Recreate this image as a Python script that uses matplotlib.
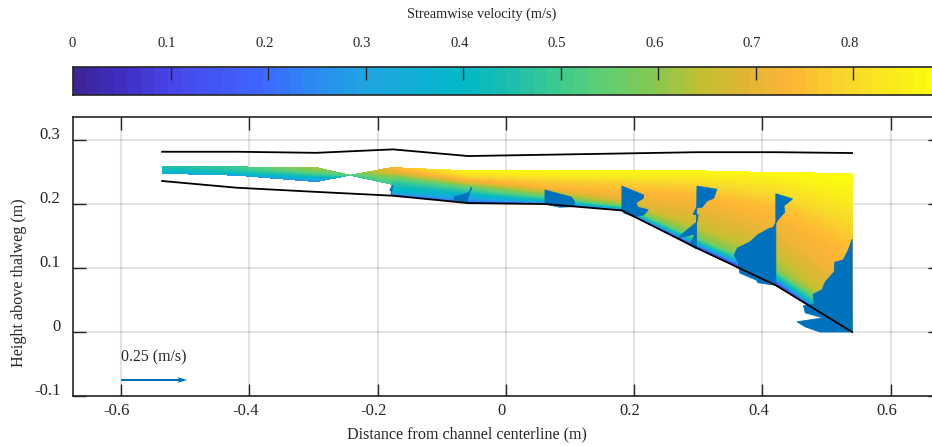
import matplotlib
matplotlib.use('Agg')
import matplotlib.pyplot as plt
import numpy as np
from matplotlib.colors import LinearSegmentedColormap, Normalize
from matplotlib.transforms import ScaledTranslation

plt.rcParams['font.family'] = ['Liberation Serif', 'DejaVu Serif']
DARK = '#262626'
BLUE = '#0072BD'
W, H = 932, 446
VMAX = 0.889

# colour scale
cmap_vals = [0, 0.05, 0.1, 0.19, 0.25, 0.3, 0.4, 0.45, 0.5, 0.55, 0.6, 0.65, 0.7, 0.74, 0.8, 0.889]
cmap_cols = ['#3D2599', '#4030C8', '#4848EA', '#3F66FF', '#2A8FF0', '#1FA5E0', '#00B9C8', '#1EBEAE',
             '#3ECC8E', '#62CF72', '#88C84E', '#C4C032', '#E5B535', '#FFB535', '#F8D82C', '#FCFC10']

# channel outline (m)
bed_x = [-0.536, -0.42, -0.296, -0.176, -0.059, 0.061, 0.181, 0.298, 0.421, 0.54]
bed_z = [0.236, 0.2255, 0.219, 0.213, 0.2015, 0.2, 0.19, 0.131, 0.073, 0.0]
surf_x = [-0.536, -0.42, -0.296, -0.176, -0.059, 0.181, 0.298, 0.421, 0.54]
surf_z = [0.2817, 0.2817, 0.28, 0.2854, 0.275, 0.279, 0.281, 0.281, 0.2797]

# velocity sections: x, bottom, top of each section, and u at fractions of its depth
sec_x = [-0.536, -0.42, -0.296, -0.243, -0.178, -0.177, -0.059, 0.061, 0.181, 0.298, 0.421, 0.54]
sec_bot = [0.248, 0.245, 0.235, 0.245, 0.231, 0.214, 0.202, 0.2, 0.19, 0.131, 0.073, 0.0]
sec_top = [0.258, 0.258, 0.257, 0.245, 0.257, 0.257, 0.252, 0.253, 0.253, 0.252, 0.249, 0.248]
frac = [0, 0.03, 0.08, 0.15, 0.3, 0.5, 0.7, 0.85, 1]
u_sec = [
    [0.28, 0.30, 0.33, 0.36, 0.39, 0.41, 0.42, 0.43, 0.44],
    [0.26, 0.30, 0.33, 0.38, 0.42, 0.45, 0.47, 0.48, 0.49],
    [0.22, 0.24, 0.27, 0.30, 0.38, 0.48, 0.55, 0.59, 0.62],
    [0.48, 0.48, 0.49, 0.49, 0.50, 0.50, 0.51, 0.51, 0.52],
    [0.50, 0.50, 0.50, 0.52, 0.55, 0.60, 0.67, 0.71, 0.73],
    [0.20, 0.24, 0.30, 0.38, 0.42, 0.48, 0.58, 0.68, 0.73],
    [0.12, 0.18, 0.25, 0.30, 0.42, 0.55, 0.72, 0.80, 0.86],
    [0.10, 0.20, 0.33, 0.45, 0.60, 0.73, 0.78, 0.84, 0.87],
    [0.10, 0.25, 0.45, 0.60, 0.70, 0.74, 0.78, 0.84, 0.87],
    [0.08, 0.18, 0.42, 0.58, 0.66, 0.70, 0.74, 0.80, 0.87],
    [0.08, 0.16, 0.42, 0.60, 0.66, 0.71, 0.75, 0.81, 0.87],
    [0.20, 0.50, 0.60, 0.68, 0.72, 0.74, 0.80, 0.85, 0.888],
]

# outlines of the blue arrow fans: height (m), offset from the station (m)
fan_x = [-0.176, -0.058, 0.061, 0.181, 0.298, 0.421, 0.54]
fan_z = [
    [0.23, 0.222, 0.219, 0.214],
    [0.227, 0.222, 0.217, 0.211, 0.206, 0.2015],
    [0.222, 0.213, 0.211, 0.204, 0.196, 0.195, 0.2],
    [0.228, 0.214, 0.209, 0.202, 0.195, 0.191, 0.183, 0.18, 0.186, 0.19],
    [0.228, 0.223, 0.209, 0.205, 0.195, 0.194, 0.184, 0.183, 0.172, 0.159, 0.147, 0.153, 0.136, 0.13],
    [0.216, 0.208, 0.197, 0.1875, 0.175, 0.1625, 0.1625, 0.152, 0.141, 0.131, 0.12, 0.109, 0.092, 0.081, 0.077, 0.073],
    [0.145, 0.128, 0.1125, 0.109, 0.094, 0.078, 0.066, 0.059, 0.044, 0.041, 0.03, 0.022, 0.016, 0.008, 0.0, 0.0],
]
fan_u = [
    [0.0, -0.005, -0.002, -0.003],
    [0.004, 0.004, -0.002, -0.023, -0.022, -0.003],
    [0.0, 0.033, 0.041, 0.046, 0.046, 0.023, 0.0],
    [0.0, 0.034, 0.033, 0.022, 0.025, 0.041, 0.034, 0.019, 0.003, 0.0],
    [0.0, 0.031, 0.026, 0.016, 0.008, -0.001, -0.006, 0.002, 0.0, -0.016, -0.03, -0.003, -0.012, -0.001],
    [0.0, 0.026, 0.0125, 0.014, 0.003, -0.005, -0.009, -0.028, -0.04, -0.06, -0.065, -0.059, -0.056, -0.03, -0.028, 0.0],
    [0.0, -0.006, -0.014, -0.027, -0.028, -0.042, -0.047, -0.061, -0.059, -0.076, -0.073, -0.045, -0.086, -0.073, -0.05, 0.0],
]

x_ticks = [-0.6, -0.4, -0.2, 0, 0.2, 0.4, 0.6]
x_labels = ['-0.6', '-0.4', '-0.2', '0', '0.2', '0.4', '0.6']
y_ticks = [-0.1, 0, 0.1, 0.2, 0.3]
y_labels = ['-0.1', '0', '0.1', '0.2', '0.3']
cb_ticks = [0.1, 0.2, 0.3, 0.4, 0.5, 0.6, 0.7, 0.8]
cb_labels = ['0.1', '0.2', '0.3', '0.4', '0.5', '0.6', '0.7', '0.8']
key_speed = 0.25


def shift(fig, lab, dx, dy):
    lab.set_transform(lab.get_transform() + ScaledTranslation(dx / 100, dy / 100, fig.dpi_scale_trans))


cmap = LinearSegmentedColormap.from_list('flow', [(v / VMAX, c) for v, c in zip(cmap_vals, cmap_cols)], N=64)
norm = Normalize(0, VMAX)

fig = plt.figure(figsize=(W / 100, H / 100), dpi=100)
ax = fig.add_axes([73 / W, 1 - 396 / H, 867 / W, 279 / H])
cax = fig.add_axes([73 / W, 1 - 95 / H, 867 / W, 28 / H])

# colour bar, one cell per colour of the map
cax.imshow(np.arange(64)[None, :], extent=[0, VMAX, 0, 1], aspect='auto', cmap=cmap, vmin=0, vmax=63)
cax.set_xlim(0, VMAX)
cax.set_yticks([])
cax.set_xticks([0] + cb_ticks, ['0'] + cb_labels)
cax.xaxis.tick_top()
cax.tick_params(axis='x', direction='in', length=9, width=1, color=DARK, labelcolor=DARK, labelsize=10.6, pad=12)
for i, tick in enumerate(cax.xaxis.get_major_ticks()):
    shift(fig, tick.label2, -1 if i == 0 else -3.5, 0)
for s in cax.spines.values():
    s.set_color(DARK)
    s.set_linewidth(1.2)
fig.text(481.5 / W, 1 - 14 / H, 'Streamwise velocity (m/s)', ha='center', va='center', fontsize=10.3, color=DARK)

# velocity field
sx = np.array(sec_x)[:, None]
bot = np.array(sec_bot)[:, None]
top = np.array(sec_top)[:, None]
X = np.tile(sx, (1, len(frac)))
Z = bot + (top - bot) * np.array(frac)[None, :]
ax.contourf(X, Z, np.array(u_sec), levels=np.linspace(0, VMAX, 65), cmap=cmap, norm=norm, zorder=2)

# arrow fans
for x0, zs, us in zip(fan_x, fan_z, fan_u):
    ax.fill(x0 + np.array(us), zs, color=BLUE, lw=0.6, zorder=3)

ax.plot(bed_x, bed_z, color='black', lw=1.3, zorder=4)
ax.plot(surf_x, surf_z, color='black', lw=1.3, zorder=4)

# reference arrow
ax.quiver(-0.6, -0.075, key_speed, 0, angles='xy', scale_units='xy', scale=key_speed / 0.103, color=BLUE,
          units='dots', width=2, headwidth=3, headlength=5, headaxislength=4, zorder=4)
ax.text(-0.6, -0.039, '0.25 (m/s)', fontsize=11.4, color=DARK, ha='left', va='center')

ax.set_xlim(-0.675, 0.677)
ax.set_ylim(-0.1, 0.336)
ax.set_xticks(x_ticks, x_labels)
ax.set_yticks(y_ticks, y_labels)
ax.grid(True, color='black', alpha=0.11, lw=1.5, zorder=1)
ax.set_axisbelow(True)
ax.tick_params(axis='both', direction='in', length=9, width=1, color=DARK, labelcolor=DARK, labelsize=12,
               top=True, right=True)
ax.tick_params(axis='x', pad=5)
ax.tick_params(axis='y', pad=9)
for lab in ax.get_xticklabels():
    shift(fig, lab, -4, 0)
for lab in ax.get_yticklabels():
    shift(fig, lab, 0, 7)
for s in ax.spines.values():
    s.set_color(DARK)
    s.set_linewidth(1.2)
fig.text(466.5 / W, 1 - 434 / H, 'Distance from channel centerline (m)', ha='center', va='center', fontsize=11.6, color=DARK)
fig.text(19 / W, 1 - 283 / H, 'Height above thalweg (m)', ha='center', va='center', rotation=90, fontsize=11.6, color=DARK)

fig.savefig('out.png', dpi=100)
